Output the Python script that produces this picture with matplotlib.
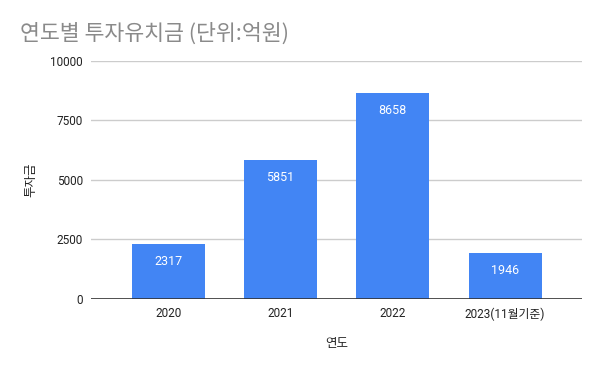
import matplotlib

matplotlib.use("Agg")

import matplotlib.pyplot as plt

plt.rcParams["font.family"] = ["Roboto", "Noto Sans CJK KR", "DejaVu Sans"]

years = ["2020", "2021", "2022", "2023(11월기준)"]
amounts = [2317, 5851, 8658, 1946]
y_ticks = [0, 2500, 5000, 7500, 10000]

fig = plt.figure(figsize=(6, 3.71), dpi=100)
ax = fig.add_axes([0.152, 0.194, 0.818, 0.642])

x = range(len(years))
bars = ax.bar(x, amounts, width=0.65, color="#4285F4", zorder=3)
for bar, value in zip(bars, amounts):
    ax.annotate(
        f"{value}",
        (bar.get_x() + bar.get_width() / 2, bar.get_height()),
        xytext=(0, -13),
        textcoords="offset points",
        ha="center",
        va="center",
        color="white",
        fontsize=9,
        zorder=4,
    )

ax.set_xlim(-0.685, 3.685)
ax.set_ylim(0, 10000)
ax.set_yticks(y_ticks)
ax.set_xticks(list(x))
ax.set_xticklabels(years)
ax.grid(True, axis="y", color="#cccccc", linewidth=1, zorder=0)
ax.axhline(0, color="#333333", linewidth=1.2, zorder=5)
for side in ["top", "right", "left", "bottom"]:
    ax.spines[side].set_visible(False)
ax.tick_params(axis="both", length=0, labelsize=8.5, labelcolor="#222222")
ax.tick_params(axis="y", pad=6)
ax.tick_params(axis="x", pad=6)

ax.set_xlabel("연도", fontsize=9, color="#222222", labelpad=12)
ax.set_ylabel("투자금", fontsize=9, color="#222222", labelpad=9)

fig.text(0.033, 0.91, "연도별 투자유치금 (단위:억원)", fontsize=15.6, color="#8a8a8a",
         ha="left", va="center", family=["Noto Sans CJK KR", "DejaVu Sans"])

fig.savefig("out.png", dpi=100)
